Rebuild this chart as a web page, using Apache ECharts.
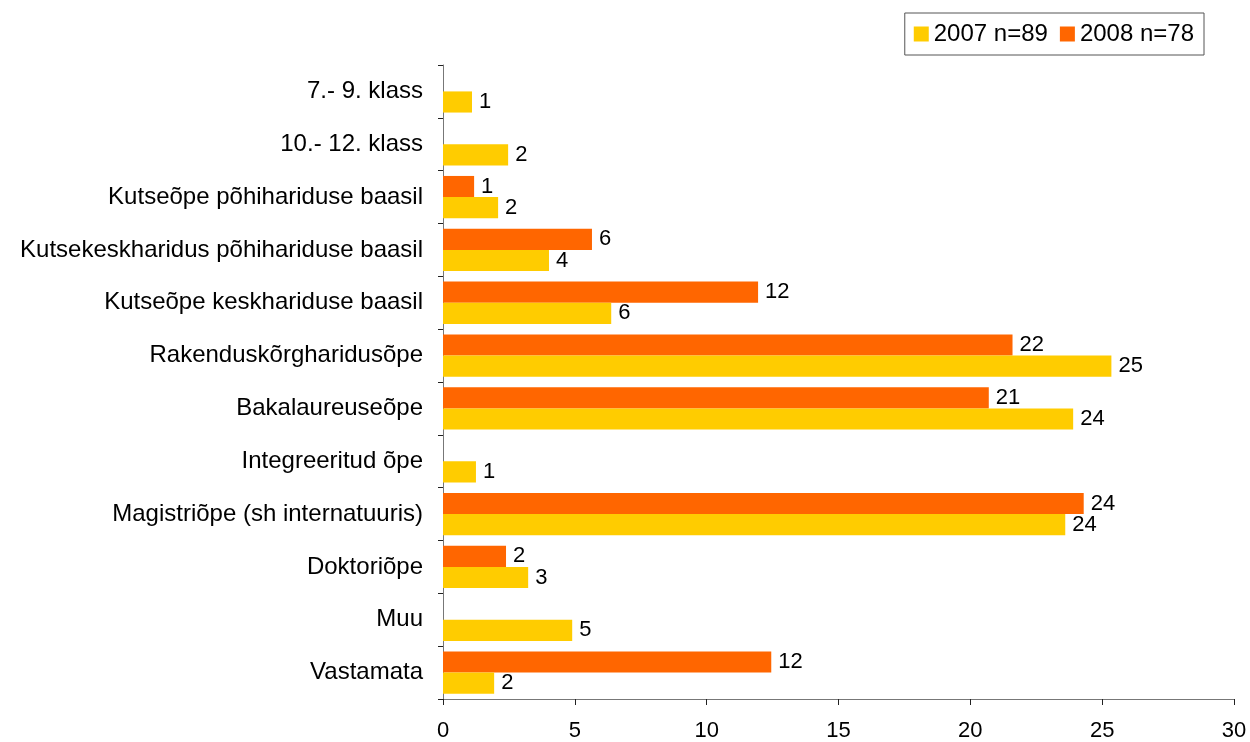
<!DOCTYPE html>
<html>
<head>
<meta charset="utf-8">
<script src="https://cdn.jsdelivr.net/npm/echarts@6/dist/echarts.min.js"></script>
<style>
  html, body { margin: 0; padding: 0; background: #fff; }
  #chart { width: 1250px; height: 742px; }
</style>
</head>
<body>
<div id="chart"></div>
<script>
// categories top to bottom, as in the picture
const categories = [
    '7.- 9. klass',
    '10.- 12. klass',
    'Kutseõpe põhihariduse baasil',
    'Kutsekeskharidus põhihariduse baasil',
    'Kutseõpe keskhariduse baasil',
    'Rakenduskõrgharidusõpe',
    'Bakalaureuseõpe',
    'Integreeritud õpe',
    'Magistriõpe (sh internatuuris)',
    'Doktoriõpe',
    'Muu',
    'Vastamata',
];
const seriesNames = ['2007 n=89', '2008 n=78'];
const values2007 = [1.1, 2.47, 2.09, 4.02, 6.38, 25.35, 23.9, 1.25, 23.6, 3.23, 4.9, 1.94];
const values2008 = [null, null, 1.18, 5.65, 11.95, 21.6, 20.7, null, 24.3, 2.39, null, 12.45];
const xTicks = [0, 5, 10, 15, 20, 25, 30];

const font = '"Liberation Sans", Arial, sans-serif';
const chart = echarts.init(document.getElementById('chart'), null, { renderer: 'canvas' });

const labelStyle = {
    show: true,
    position: 'right',
    distance: 7,
    color: '#000',
    fontSize: 22,
    fontFamily: font,
    formatter: (p) => Math.round(p.value),
};

chart.setOption({
    animation: false,
    textStyle: { fontFamily: font },
    legend: {
        data: seriesNames,
        right: 46,
        top: 13,
        orient: 'horizontal',
        itemWidth: 15,
        itemHeight: 15,
        itemGap: 12,
        padding: [9, 10, 9, 9],
        borderColor: '#555',
        borderWidth: 1,
        icon: 'rect',
        textStyle: { color: '#000', fontSize: 24, fontFamily: font },
    },
    grid: { left: 443, right: 16, top: 65, bottom: 43 },
    xAxis: {
        type: 'value',
        min: xTicks[0],
        max: xTicks[xTicks.length - 1],
        interval: 5,
        splitLine: { show: false },
        axisLine: { show: true, lineStyle: { color: '#777', width: 1 } },
        axisTick: { show: true, length: 6, lineStyle: { color: '#222' } },
        axisLabel: { color: '#000', fontSize: 22, fontFamily: font, margin: 21 },
    },
    yAxis: {
        type: 'category',
        data: categories,
        inverse: true,
        axisLine: { show: true, lineStyle: { color: '#777', width: 1 } },
        axisTick: { show: true, length: 5, lineStyle: { color: '#222' } },
        axisLabel: { color: '#000', fontSize: 24, fontFamily: font, margin: 20 },
    },
    series: [
        {
            name: seriesNames[1],
            type: 'bar',
            data: values2008,
            itemStyle: { color: '#FF6600' },
            barGap: '0%',
            barCategoryGap: '20%',
            label: labelStyle,
        },
        {
            name: seriesNames[0],
            type: 'bar',
            data: values2007,
            itemStyle: { color: '#FFCC00' },
            barGap: '0%',
            barCategoryGap: '20%',
            label: labelStyle,
        },
    ],
});
</script>
</body>
</html>
